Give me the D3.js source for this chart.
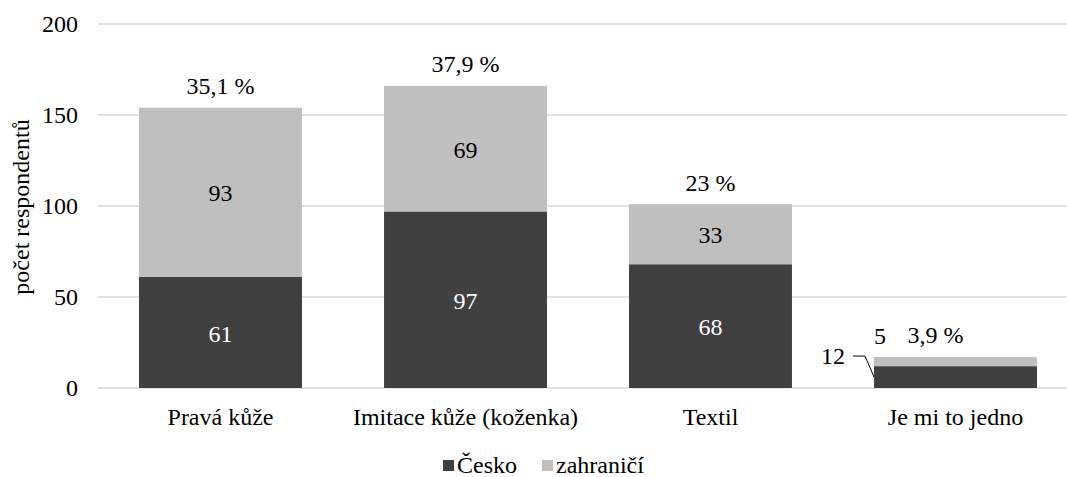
<!DOCTYPE html>
<html>
<head>
<meta charset="utf-8">
<script src="https://cdn.jsdelivr.net/npm/d3@7"></script>
<style>
  html, body { margin: 0; padding: 0; background: #fff; }
  svg { display: block; }
</style>
</head>
<body>
<svg id="chart" width="1067" height="477"></svg>
<script>
// Categories and stacked series (number of respondents)
const categories = ["Pravá kůže", "Imitace kůže (koženka)", "Textil", "Je mi to jedno"];
const cesko      = [61, 97, 68, 12];
const zahranici  = [93, 69, 33, 5];
const shareLabels = ["35,1 %", "37,9 %", "23 %", "3,9 %"];
const yTicks = [0, 50, 100, 150, 200];
const seriesNames = ["Česko", "zahraničí"];
const colors = ["#404040", "#bfbfbf"];

const FONT = "Liberation Serif";
const fontSize = 24;

const svg = d3.select("#chart");

const x = d3.scaleBand()
  .domain(categories)
  .range([98, 1078])
  .paddingInner(0.335)
  .paddingOuter(0.1675);

const y = d3.scaleLinear().domain([0, 200]).range([388, 24]);

// Gridlines
svg.append("g").selectAll("line")
  .data(yTicks)
  .join("line")
  .attr("x1", 98).attr("x2", 1078)
  .attr("y1", d => y(d)).attr("y2", d => y(d))
  .attr("stroke", "#d9d9d9").attr("stroke-width", 1.5);

// Y axis labels
const yAxis = svg.append("g")
  .attr("transform", "translate(78,0)")
  .call(d3.axisLeft(y).tickValues(yTicks).tickSize(0).tickPadding(0));
yAxis.select(".domain").remove();

// X axis labels
const xAxis = svg.append("g")
  .attr("transform", "translate(0,408)")
  .call(d3.axisBottom(x).tickSize(0).tickPadding(0));
xAxis.select(".domain").remove();

// Stacked data
const rows = categories.map((c, i) => ({ cat: c, "Česko": cesko[i], "zahraničí": zahranici[i] }));
const stack = d3.stack().keys(seriesNames)(rows);

const layers = svg.append("g").selectAll("g")
  .data(stack)
  .join("g")
  .attr("fill", (d, i) => colors[i]);

layers.selectAll("rect")
  .data(d => d)
  .join("rect")
  .attr("x", d => x(d.data.cat))
  .attr("width", x.bandwidth())
  .attr("y", d => y(d[1]))
  .attr("height", d => y(d[0]) - y(d[1]));

// Value labels inside segments (the small last category gets labels outside)
const labels = svg.append("g");

const li = categories.length - 1;
stack.forEach((layer, si) => {
  layer.forEach((d, ci) => {
    if (ci === li) return;
    labels.append("text")
      .attr("x", x(d.data.cat) + x.bandwidth() / 2)
      .attr("y", (y(d[0]) + y(d[1])) / 2)
      .attr("dy", "0.38em")
      .attr("text-anchor", "middle")
      .attr("fill", si === 0 ? "#fff" : "#000")
      .text(d[1] - d[0]);
  });
});

// Outside labels for the last category
const bx = x(categories[li]);
const lastTotal = cesko[li] + zahranici[li];
// Česko value with leader line
labels.append("text")
  .attr("x", bx - 41).attr("y", y(lastTotal) - 1)
  .attr("dy", "0.35em")
  .attr("text-anchor", "middle")
  .attr("fill", "#000")
  .text(cesko[li]);
svg.append("path")
  .attr("d", `M${bx - 21},${y(lastTotal) - 1} L${bx - 9},${y(lastTotal) - 1} L${bx},${y(cesko[li] / 2)}`)
  .attr("fill", "none").attr("stroke", "#000").attr("stroke-width", 1);
// zahraničí value above
labels.append("text")
  .attr("x", bx + 6).attr("y", y(lastTotal) - 21)
  .attr("dy", "0.35em")
  .attr("text-anchor", "middle")
  .attr("fill", "#000")
  .text(zahranici[li]);

// Share labels above the bars
categories.forEach((c, i) => {
  const total = cesko[i] + zahranici[i];
  const cx = i === li ? x(c) + x.bandwidth() / 2 - 20 : x(c) + x.bandwidth() / 2;
  labels.append("text")
    .attr("x", cx)
    .attr("y", y(total) - 22)
    .attr("dy", "0.35em")
    .attr("text-anchor", "middle")
    .attr("fill", "#000")
    .text(shareLabels[i]);
});

// Y axis title
svg.append("text")
  .attr("transform", "translate(21,207) rotate(-90)")
  .attr("text-anchor", "middle")
  .attr("dy", "0.35em")
  .attr("fill", "#000")
  .text("počet respondentů");

// Legend
const legend = svg.append("g");
const legendItems = [
  { name: seriesNames[0], color: colors[0], x: 443 },
  { name: seriesNames[1], color: colors[1], x: 542 }
];
legendItems.forEach(it => {
  legend.append("rect")
    .attr("x", it.x).attr("y", 460).attr("width", 11).attr("height", 11)
    .attr("fill", it.color);
  legend.append("text")
    .attr("x", it.x + 14).attr("y", 465)
    .attr("dy", "0.35em")
    .attr("fill", "#000")
    .text(it.name);
});

// Typeface and size set directly on every text element
svg.selectAll("text")
  .attr("font-family", FONT)
  .attr("font-size", fontSize)
  .style("font-family", FONT)
  .style("font-size", fontSize + "px");
yAxis.selectAll("text").attr("fill", "#000");
xAxis.selectAll("text").attr("fill", "#000");
</script>
</body>
</html>
